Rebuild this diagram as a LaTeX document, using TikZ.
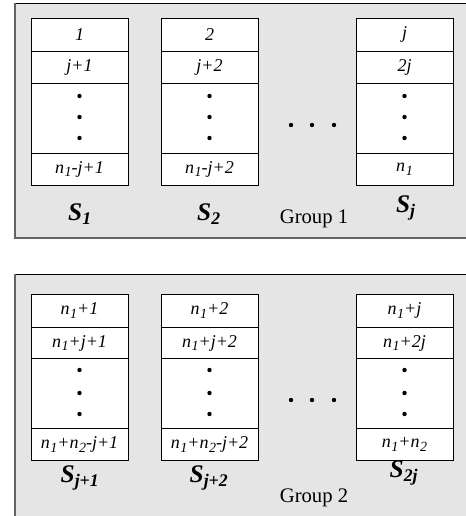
\documentclass[tikz,border=0pt]{standalone}
\usepackage{fontspec}
\setmainfont{Liberation Serif}
\definecolor{grpfill}{RGB}{229,229,229}
\definecolor{grpedge}{RGB}{100,100,100}
\newcommand\nsub[1]{\textit{n}\kern0.03em\raisebox{-0.45ex}{\fontsize{10.5}{11}\selectfont\textit{#1}}}
\newcommand\Slab[1]{\textbf{\textit{S}\textsubscript{\textit{#1}}}}
\begin{document}
\begin{tikzpicture}[x=0.75pt,y=-0.75pt,
  cell/.style={draw=black,line width=0.6pt,fill=white,inner sep=0pt,
    minimum width=72.75pt,font=\itshape\fontsize{13.5}{15}\selectfont},
  rowa/.style={minimum height=24.75pt},
  rowb/.style={minimum height=24pt},
  rowc/.style={minimum height=52.5pt},
  rowd/.style={minimum height=24pt},
  vdot/.style={fill=black,circle,inner sep=0pt,minimum size=3.3pt},
  slab/.style={font=\fontsize{19}{21}\selectfont},
  glab/.style={font=\fontsize{15.5}{17}\selectfont}]
\useasboundingbox (0,0) rectangle (466,516);
\clip (0,0) rectangle (466,516);
% group backgrounds
\fill[grpfill] (15,3) rectangle (470,238);
\draw[black,line width=0.6pt] (15,3) -- (470,3);
\draw[grpedge,line width=1.3pt] (15,3) -- (15,238) -- (470,238);
\fill[grpfill] (15,274) rectangle (470,520);
\draw[black,line width=0.6pt] (15,274) -- (470,274);
\draw[grpedge,line width=1.3pt] (15,274) -- (15,520);
% ---------- group 1 ----------
\node[cell,rowa] (a11) at (79.5,34.5) {1};
\node[cell,rowb] (a12) at (79.5,67) {j+1};
\node[cell,rowc] (a13) at (79.5,118) {};
\node[cell,rowd] (a14) at (79.5,169) {\nsub{1}-j+1};
\node[cell,rowa] (a21) at (209.5,34.5) {2};
\node[cell,rowb] (a22) at (209.5,67) {j+2};
\node[cell,rowc] (a23) at (209.5,118) {};
\node[cell,rowd] (a24) at (209.5,169) {\nsub{1}-j+2};
\node[cell,rowa] (a31) at (404.5,34.5) {j};
\node[cell,rowb] (a32) at (404.5,67) {2j};
\node[cell,rowc] (a33) at (404.5,118) {};
\node[cell,rowd] (a34) at (404.5,169) {\nsub{1}};
\foreach \c in {79.5,209.5,404.5}{
  \foreach \y in {96,117,138}{ \node[vdot] at (\c,\y) {}; } }
\foreach \x in {291,312,334}{ \node[vdot] at (\x,125) {}; }
\node[slab] (s1) at (80,214) {\Slab{1}};
\node[slab] (s2) at (209,214) {\Slab{2}};
\node[slab] (sj) at (406,208) {\Slab{j}};
\node[glab] (g1) at (314,219) {Group 1};
% ---------- group 2 ----------
\node[cell,rowa] (b11) at (79.5,310.5) {\nsub{1}+1};
\node[cell,rowb] (b12) at (79.5,343) {\nsub{1}+j+1};
\node[cell,rowc] (b13) at (79.5,393.5) {};
\node[cell,rowd] (b14) at (79.5,444.5) {\nsub{1}+\nsub{2}-j+1};
\node[cell,rowa] (b21) at (209.5,310.5) {\nsub{1}+2};
\node[cell,rowb] (b22) at (209.5,343) {\nsub{1}+j+2};
\node[cell,rowc] (b23) at (209.5,393.5) {};
\node[cell,rowd] (b24) at (209.5,444.5) {\nsub{1}+\nsub{2}-j+2};
\node[cell,rowa] (b31) at (404.5,310.5) {\nsub{1}+j};
\node[cell,rowb] (b32) at (404.5,343) {\nsub{1}+2j};
\node[cell,rowc] (b33) at (404.5,393.5) {};
\node[cell,rowd] (b34) at (404.5,444.5) {\nsub{1}+\nsub{2}};
\foreach \c in {79.5,209.5,404.5}{
  \foreach \y in {370,393,414}{ \node[vdot] at (\c,\y) {}; } }
\foreach \x in {291,312,334}{ \node[vdot] at (\x,400) {}; }
\node[slab] (s3) at (80,478) {\Slab{j+1}};
\node[slab] (s4) at (209,478) {\Slab{j+2}};
\node[slab] (s5) at (404,473) {\Slab{2j}};
\node[glab] (g2) at (314,498) {Group 2};
\end{tikzpicture}
\end{document}
